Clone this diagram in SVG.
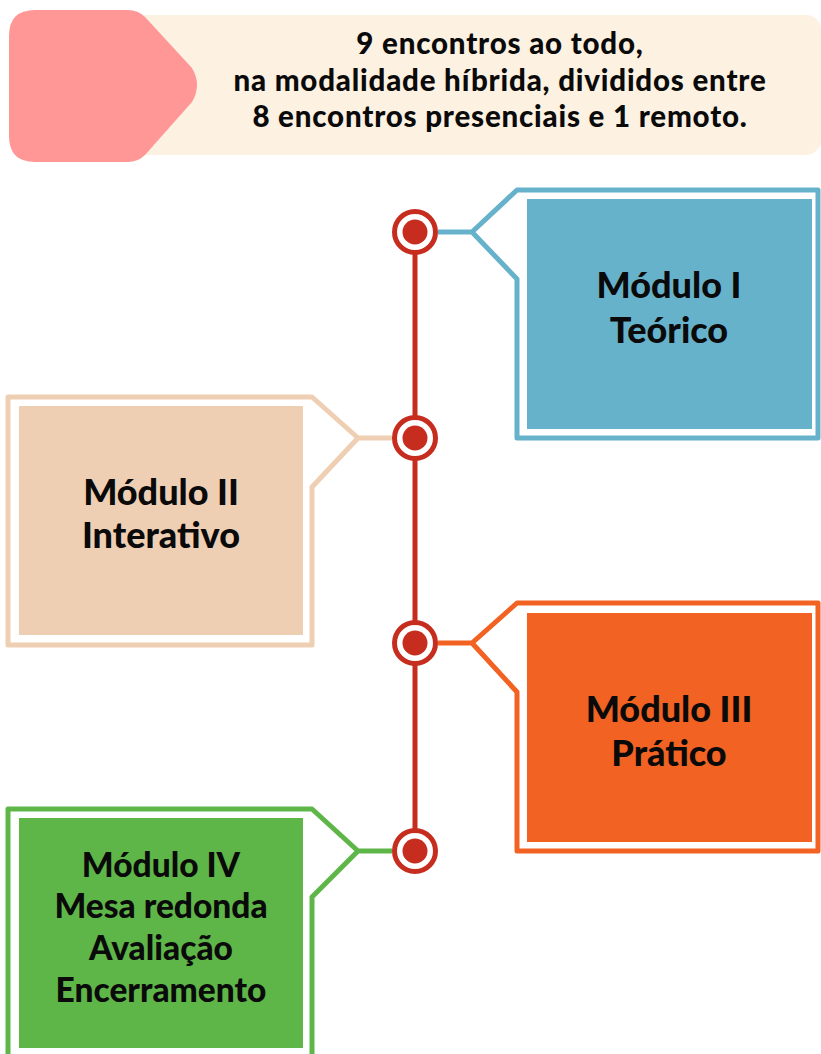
<svg xmlns="http://www.w3.org/2000/svg" width="821" height="1054" viewBox="0 0 821 1054">
<style>
.t{font-family:Lato,"Open Sans","Liberation Sans",sans-serif;font-weight:900;fill:#0a0a0a;text-anchor:middle}
.hd{font-size:29.5px;letter-spacing:0.8px}
.m{font-size:36px}
.m4{font-size:33.5px}
.ring{fill:#fff;stroke:#C62D1F;stroke-width:5}
.dot{fill:#C62D1F}
.ol{fill:none;stroke-width:5;stroke-linejoin:round}
</style>
<rect width="821" height="1054" fill="#fff"/>
<g id="header">
<rect x="120" y="15" width="701" height="140" rx="15" fill="#FDF1E2"/>
<path d="M35 10 L128 10 Q138 10 145 17 L192 68 Q202 85 192 102 L145 155 Q138 162 128 162 L35 162 Q9 162 9 136 L9 36 Q9 10 35 10 Z" fill="#FF9797"/>
<text class="t hd" x="500" y="54">9 encontros ao todo,</text>
<text class="t hd" x="500" y="91">na modalidade híbrida, divididos entre</text>
<text class="t hd" x="500" y="127">8 encontros presenciais e 1 remoto.</text>
</g>
<g id="connectors">
<line x1="415" y1="232" x2="415" y2="851" stroke="#C62D1F" stroke-width="5"/>
<path class="ol" stroke="#67B2CB" d="M438 232 L472 232 L517 190 L818 190 L818 438 L517 438 L517 279 L472 232"/>
<path class="ol" stroke="#EFCFB3" d="M392 438 L358 438 L312 397 L8 397 L8 645 L312 645 L312 487 L358 438"/>
<path class="ol" stroke="#F26222" d="M438 643 L472 643 L517 603 L818 603 L818 851 L517 851 L517 692 L472 643"/>
<path class="ol" stroke="#5FB648" d="M392 851 L358 851 L312 809 L8 809 L8 1062 L312 1062 L312 897 L358 851"/>
</g>
<g id="dot1"><circle class="ring" cx="415" cy="232" r="20.5"/><circle class="dot" cx="415" cy="232" r="12.5"/></g>
<g id="dot2"><circle class="ring" cx="415" cy="438" r="20.5"/><circle class="dot" cx="415" cy="438" r="12.5"/></g>
<g id="dot3"><circle class="ring" cx="415" cy="643" r="20.5"/><circle class="dot" cx="415" cy="643" r="12.5"/></g>
<g id="dot4"><circle class="ring" cx="415" cy="851" r="20.5"/><circle class="dot" cx="415" cy="851" r="12.5"/></g>
<g id="modulo1">
<rect x="527" y="199" width="285" height="230" fill="#67B2CB"/>
<text class="t m" x="669" y="298">Módulo I</text>
<text class="t m" x="669" y="343">Teórico</text>
</g>
<g id="modulo2">
<rect x="19" y="406" width="284" height="229" fill="#EFCFB3"/>
<text class="t m" x="161" y="505">Módulo II</text>
<text class="t m" x="161" y="548">Interativo</text>
</g>
<g id="modulo3">
<rect x="527" y="613" width="285" height="229" fill="#F26222"/>
<text class="t m" x="669" y="722">Módulo III</text>
<text class="t m" x="669" y="766">Prático</text>
</g>
<g id="modulo4">
<rect x="19" y="818" width="284" height="230" fill="#5FB648"/>
<text class="t m4" x="161" y="877">Módulo IV</text>
<text class="t m4" x="161" y="918">Mesa redonda</text>
<text class="t m4" x="161" y="960">Avaliação</text>
<text class="t m4" x="161" y="1002">Encerramento</text>
</g>
</svg>
